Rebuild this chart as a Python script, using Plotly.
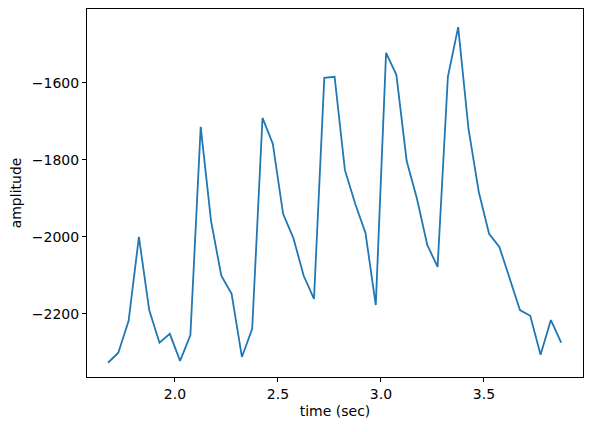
import plotly.graph_objects as go

time = [1.675,1.725,1.775,1.825,1.875,1.925,1.975,2.025,2.075,2.125,2.175,2.225,2.275,2.325,2.375,
        2.425,2.475,2.525,2.575,2.625,2.675,2.725,2.775,2.825,2.875,2.925,2.975,3.025,3.075,3.125,
        3.175,3.225,3.275,3.325,3.375,3.425,3.475,3.525,3.575,3.625,3.675,3.725,3.775,3.825,3.875]
amplitude = [-2327,-2301,-2218,-2000,-2190,-2275,-2252,-2322,-2255,-1714,-1958,-2101,-2148,-2312,-2239,
             -1691,-1758,-1940,-2003,-2101,-2161,-1587,-1584,-1826,-1914,-1990,-2177,-1522,-1579,-1803,
             -1901,-2021,-2078,-1584,-1455,-1719,-1883,-1992,-2026,-2109,-2190,-2205,-2306,-2216,-2275]

fig = go.Figure(go.Scatter(x=time, y=amplitude, mode="lines", line=dict(color="#1f77b4", width=1.8)))
axis = dict(showgrid=False, zeroline=False, showline=True, mirror=True, linecolor="black", linewidth=1,
            ticks="outside", ticklen=4, tickcolor="black", tickfont=dict(size=14, color="black"),
            automargin=False)
fig.update_xaxes(**axis, range=[1.573, 3.981], tickvals=[2.0, 2.5, 3.0, 3.5], ticktext=["2.0","2.5","3.0","3.5"],
                 title=dict(text="time (sec)", font=dict(size=14, color="black"), standoff=5))
fig.update_yaxes(**axis, range=[-2364, -1408], tickvals=[-2200,-2000,-1800,-1600],
                 ticktext=["−2200","−2000","−1800","−1600"],
                 title=dict(text="amplitude", font=dict(size=14, color="black"), standoff=7))
fig.update_layout(width=592, height=432, margin=dict(l=79, r=17, t=1, b=63), plot_bgcolor="white",
                  paper_bgcolor="white", font=dict(family="DejaVu Sans"), showlegend=False)
fig.write_html("out.html")
